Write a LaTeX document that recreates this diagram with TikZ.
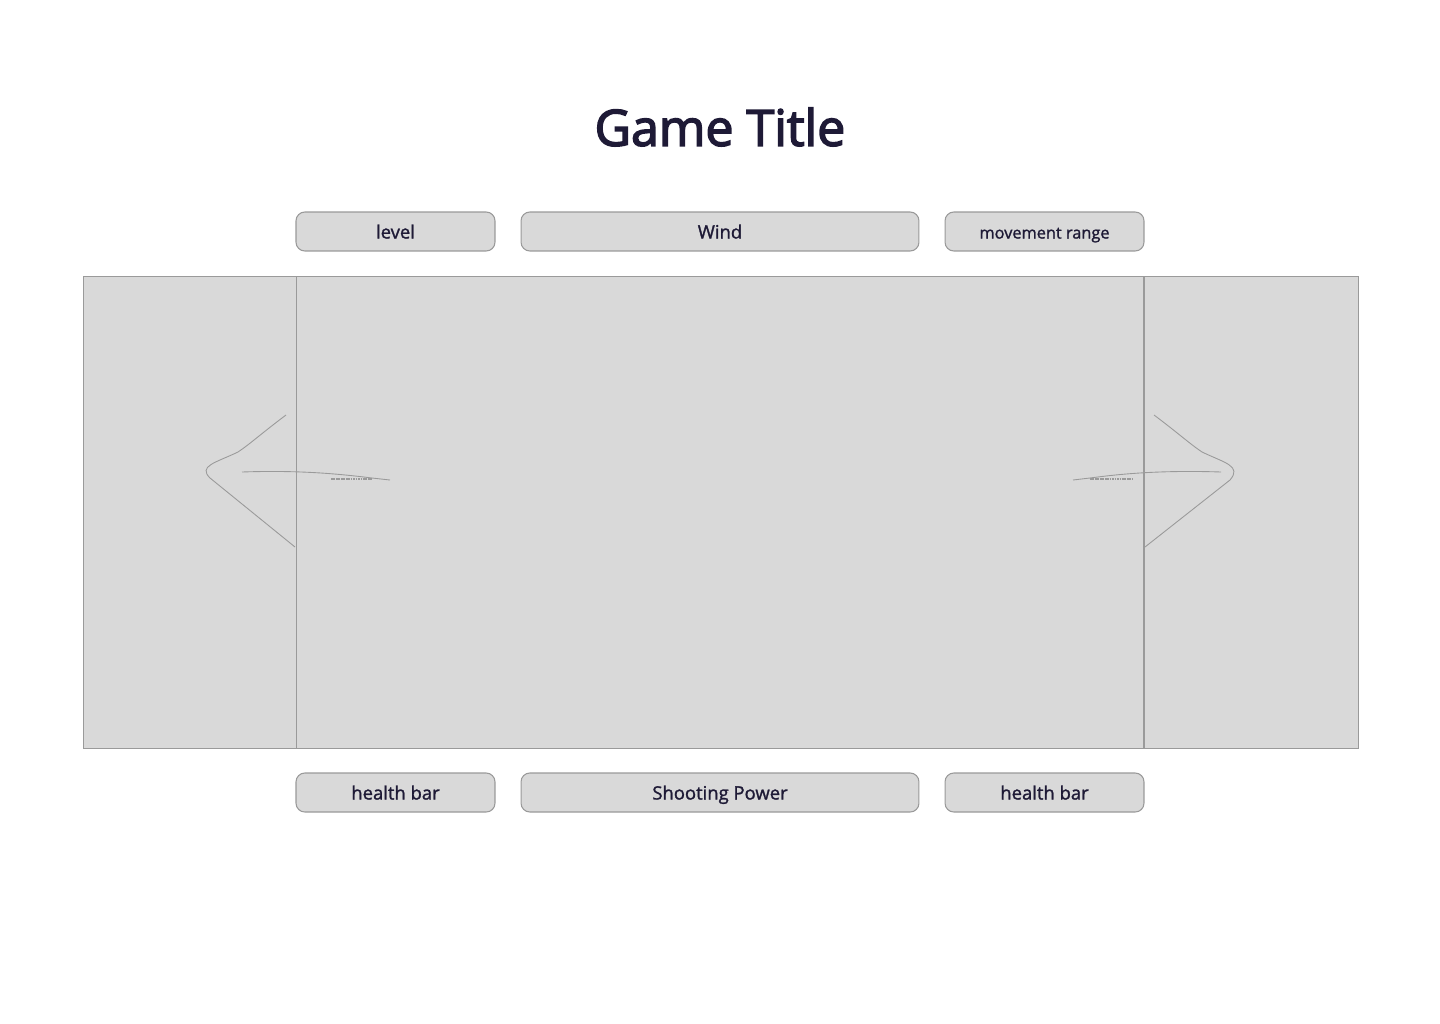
\documentclass[tikz,border=0pt]{standalone}
\usepackage{fontspec}
\setmainfont{Open Sans}
\newfontfamily\semifont[FakeBold=1.4]{Open Sans}
\newfontfamily\headfont[FakeBold=3]{Open Sans}
\usepackage{tikz}
\usetikzlibrary{positioning}
\definecolor{panelgray}{HTML}{D9D9D9}
\definecolor{linegray}{HTML}{9A9A9A}
\definecolor{inkblue}{HTML}{1E1A36}

\begin{document}
\begin{tikzpicture}[x=0.02cm,y=-0.02cm]
	\tikzstyle{hudbox}=[draw=linegray, fill=panelgray, shape=rectangle, rounded corners=5pt, line width=0.6pt, minimum width=3.98cm, minimum height=0.78cm, inner sep=0pt, text height=9pt, text depth=1pt, text=inkblue, font=\semifont\fontsize{10.5}{12}\selectfont];
	\tikzstyle{widebox}=[hudbox, minimum width=7.96cm];
	\tikzstyle{panel}=[draw=linegray, fill=panelgray, shape=rectangle, line width=0.5pt, inner sep=0pt, minimum height=9.44cm];
	\tikzstyle{sketch}=[draw=linegray, line width=0.5pt];

	\useasboundingbox (0,0) rectangle (1440,1024);

	\node[font=\headfont\fontsize{28.5}{34}\selectfont, text=inkblue] (title) at (720,127) {Game Title};

	% top bar
	\node[hudbox] (lvl) at (395.5,231.5) {level};
	\node[widebox] (wind) at (720,231.5) {Wind};
	\node[hudbox, font=\semifont\fontsize{9.3}{11}\selectfont] (range) at (1044.5,231.5) {movement range};

	% playing field
	\node[panel, minimum width=4.26cm] (leftp) at (189.5,512) {};
	\node[panel, minimum width=16.96cm] (field) at (720,512) {};
	\node[panel, minimum width=4.28cm] (rightp) at (1251,512) {};

	% bottom bar
	\node[hudbox] (hpl) at (395.5,792.5) {health bar};
	\node[widebox] (power) at (720,792.5) {Shooting Power};
	\node[hudbox] (hpr) at (1044.5,792.5) {health bar};

	% left arrow
	\draw[sketch] (286,415) .. controls (262,433) and (250,444) .. (238,452)
		.. controls (215,463) and (198,466) .. (210,478)
		-- (295,547);
	\draw[sketch] (242,472) .. controls (300,470) and (340,474) .. (372,478) -- (390,480);
	\draw[sketch, line width=0.9pt, dash pattern=on 1pt off 0.4pt] (331,479) -- (372,479);

	% right arrow
	\draw[sketch] (1154,415) .. controls (1178,433) and (1190,444) .. (1202,452)
		.. controls (1225,463) and (1242,466) .. (1230,480)
		-- (1145,547);
	\draw[sketch] (1221,472) .. controls (1160,470) and (1120,474) .. (1090,478) -- (1073,480);
	\draw[sketch, line width=0.9pt, dash pattern=on 1pt off 0.4pt] (1090,479) -- (1133,479);

\end{tikzpicture}
\end{document}
